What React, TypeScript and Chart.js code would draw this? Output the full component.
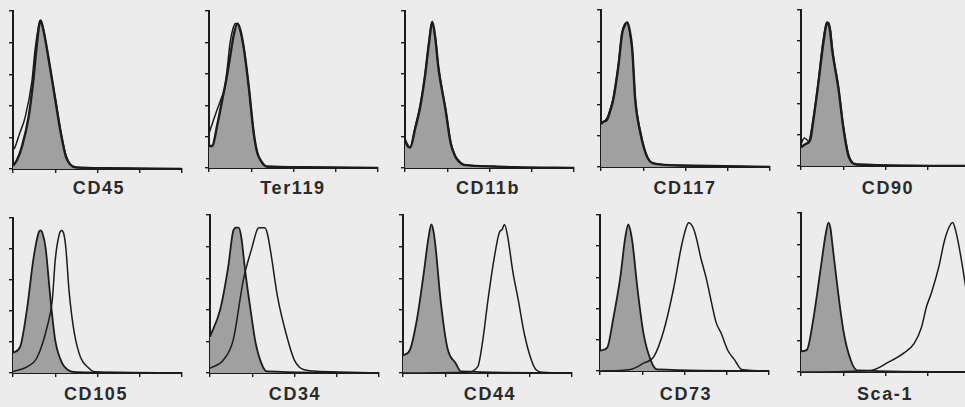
import React, { useEffect, useRef } from "react";
import { Chart, registerables } from "chart.js";

Chart.register(...registerables);

// ---------- DATA ----------
// x = log10 fluorescence (4 decades), y = % of max events
const markers = ["CD45", "Ter119", "CD11b", "CD117", "CD90", "CD105", "CD34", "CD44", "CD73", "Sca-1"];
const decadeTicks = [0, 1, 2, 3, 4];
const countTicks = [0, 20, 40, 60, 80, 100];

type Pt = [number, number];

const cd45Isotype: Pt[] = [[0, 2], [0.1, 6], [0.21, 14], [0.37, 33], [0.48, 56], [0.55, 75], [0.65, 94], [0.72, 88], [0.81, 75], [1.0, 44], [1.13, 23], [1.25, 8], [1.35, 3], [1.5, 1], [2.2, 0.5], [4, 0]];
const cd45Stained: Pt[] = [[0, 12], [0.05, 14], [0.15, 22], [0.29, 33], [0.45, 56], [0.52, 75], [0.62, 92], [0.66, 94], [0.73, 87], [0.81, 75], [1.0, 45], [1.13, 24], [1.25, 9], [1.35, 3], [1.5, 1], [2.2, 0.5], [4, 0]];

const ter119Isotype: Pt[] = [[0, 14], [0.07, 14], [0.2, 28], [0.31, 43], [0.42, 58], [0.5, 71], [0.58, 84], [0.67, 92], [0.74, 88], [0.82, 77], [0.94, 52], [1.06, 22], [1.14, 10], [1.22, 5], [1.36, 1], [2.2, 0.5], [4, 0]];
const ter119Stained: Pt[] = [[0, 22], [0.1, 30], [0.19, 37], [0.3, 45], [0.38, 52], [0.45, 68], [0.5, 80], [0.57, 89], [0.63, 92], [0.7, 91], [0.77, 84], [0.85, 72], [0.94, 52], [1.06, 22], [1.14, 10], [1.22, 5], [1.36, 1], [2.2, 0.5], [4, 0]];

const cd11bIsotype: Pt[] = [[0, 18], [0.05, 15], [0.12, 13], [0.24, 25], [0.36, 39], [0.48, 60], [0.56, 78], [0.65, 93], [0.72, 82], [0.79, 64], [0.96, 37], [1.08, 16], [1.18, 8], [1.25, 5], [1.4, 2], [2.1, 1], [2.6, 0.5], [4, 0]];
const cd11bStained: Pt[] = [[0, 17], [0.05, 14], [0.12, 13], [0.24, 26], [0.36, 40], [0.48, 61], [0.56, 79], [0.64, 93], [0.72, 83], [0.79, 65], [0.96, 38], [1.08, 17], [1.18, 8], [1.25, 5], [1.4, 2], [2.1, 1], [2.6, 0.5], [4, 0]];

const cd117Isotype: Pt[] = [[0, 28], [0.07, 29], [0.14, 30], [0.22, 36], [0.29, 43], [0.41, 64], [0.5, 85], [0.56, 90], [0.62, 92], [0.68, 87], [0.74, 75], [0.81, 43], [0.93, 22], [1.1, 6], [1.3, 2], [1.85, 1], [4, 0]];
const cd117Stained: Pt[] = [[0, 27], [0.07, 29], [0.14, 31], [0.22, 37], [0.29, 44], [0.41, 65], [0.5, 86], [0.56, 91], [0.62, 92], [0.68, 86], [0.74, 74], [0.81, 44], [0.93, 23], [1.1, 6], [1.3, 2], [1.85, 1], [4, 0]];

const cd90Isotype: Pt[] = [[0, 12], [0.1, 14], [0.22, 17], [0.29, 29], [0.41, 53], [0.53, 79], [0.62, 92], [0.68, 88], [0.74, 74], [0.89, 49], [1.0, 25], [1.13, 6], [1.33, 1], [4, 0]];
const cd90Stained: Pt[] = [[0, 14], [0.08, 18], [0.18, 16], [0.27, 27], [0.4, 52], [0.52, 80], [0.6, 91], [0.65, 92], [0.7, 87], [0.75, 74], [0.89, 50], [1.0, 26], [1.13, 7], [1.33, 1], [4, 0]];

const cd105Isotype: Pt[] = [[0, 13], [0.17, 17], [0.33, 41], [0.48, 73], [0.6, 90], [0.65, 92], [0.7, 90], [0.77, 81], [0.89, 47], [1.0, 21], [1.17, 6], [1.3, 2], [1.5, 0.5], [4, 0]];
const cd105Stained: Pt[] = [[0, 1], [0.33, 4], [0.57, 10], [0.81, 30], [0.93, 47], [1.0, 73], [1.1, 90], [1.15, 92], [1.2, 90], [1.25, 81], [1.33, 52], [1.45, 26], [1.6, 10], [1.8, 3], [1.9, 1], [2.3, 0.5], [4, 0]];

const cd34Isotype: Pt[] = [[0, 23], [0.24, 40], [0.43, 67], [0.55, 90], [0.62, 92], [0.68, 92], [0.74, 86], [0.84, 63], [0.96, 40], [1.08, 19], [1.25, 4], [1.35, 1], [4, 0]];
const cd34Stained: Pt[] = [[0, 3], [0.31, 8], [0.55, 21], [0.79, 59], [1.0, 80], [1.12, 91], [1.17, 92], [1.3, 92], [1.36, 88], [1.44, 76], [1.6, 48], [1.8, 25], [2.0, 8], [2.23, 2], [2.6, 1], [4, 0]];

const cd44Isotype: Pt[] = [[0, 11], [0.17, 15], [0.33, 34], [0.48, 61], [0.6, 85], [0.67, 94], [0.72, 90], [0.77, 80], [0.89, 46], [1.05, 16], [1.25, 6], [1.37, 1], [4, 0]];
const cd44Stained: Pt[] = [[0, 0], [1.5, 0.5], [1.77, 4], [1.89, 21], [2.01, 46], [2.16, 73], [2.28, 89], [2.35, 91], [2.4, 94], [2.48, 86], [2.6, 64], [2.73, 46], [2.87, 25], [3.04, 8], [3.15, 2], [3.3, 0.5], [4, 0]];

const cd73Isotype: Pt[] = [[0, 13], [0.17, 15], [0.31, 33], [0.48, 60], [0.6, 86], [0.67, 94], [0.72, 90], [0.77, 82], [0.89, 52], [1.03, 24], [1.2, 7], [1.35, 1], [4, 0]];
const cd73Stained: Pt[] = [[0, 0], [0.72, 1], [1.03, 5], [1.27, 9], [1.51, 26], [1.75, 54], [1.92, 79], [2.04, 92], [2.1, 95], [2.23, 90], [2.4, 71], [2.51, 60], [2.63, 45], [2.75, 31], [2.87, 24], [3.03, 13], [3.19, 7], [3.35, 1], [4, 0]];

const sca1Isotype: Pt[] = [[0, 13], [0.14, 14], [0.29, 33], [0.46, 64], [0.58, 86], [0.65, 94], [0.7, 90], [0.74, 81], [0.86, 54], [1.01, 25], [1.17, 8], [1.33, 1], [4, 0]];
const sca1Stained: Pt[] = [[0, 0], [1.65, 1], [2.06, 6], [2.44, 12], [2.68, 18], [2.85, 28], [2.97, 41], [3.09, 50], [3.26, 66], [3.4, 83], [3.52, 92], [3.59, 94], [3.65, 90], [3.74, 79], [3.86, 60], [3.95, 45], [4.0, 38]];

const isotypeSeries: Pt[][] = [cd45Isotype, ter119Isotype, cd11bIsotype, cd117Isotype, cd90Isotype, cd105Isotype, cd34Isotype, cd44Isotype, cd73Isotype, sca1Isotype];
const stainedSeries: Pt[][] = [cd45Stained, ter119Stained, cd11bStained, cd117Stained, cd90Stained, cd105Stained, cd34Stained, cd44Stained, cd73Stained, sca1Stained];

// ---------- LAYOUT (pixels) ----------
const PLOT_W = 167;
const TICK = 4;
const PAD = 2;
const boxes = [
  { left: 13, top: 11, base: 169, labelX: 99, labelY: 178.5, lw: 2.4, slw: 1.5 },
  { left: 209, top: 11, base: 168, labelX: 293, labelY: 178.5, lw: 2.4, slw: 1.5 },
  { left: 405, top: 11, base: 168, labelX: 488, labelY: 178.5, lw: 2.4, slw: 1.5 },
  { left: 601, top: 10, base: 167, labelX: 685, labelY: 178.5, lw: 2.4, slw: 1.5 },
  { left: 801, top: 10, base: 166, labelX: 888, labelY: 178.5, lw: 2.4, slw: 1.5 },
  { left: 13, top: 218, base: 373, labelX: 96, labelY: 384.5, lw: 1.8, slw: 1.5 },
  { left: 210, top: 215, base: 373, labelX: 295, labelY: 384.5, lw: 1.8, slw: 1.5 },
  { left: 403, top: 215, base: 373, labelX: 490, labelY: 384.5, lw: 1.8, slw: 1.5 },
  { left: 600, top: 215, base: 371, labelX: 686, labelY: 384.5, lw: 1.8, slw: 1.5 },
  { left: 801, top: 213, base: 372, labelX: 885, labelY: 384.5, lw: 1.8, slw: 1.5 },
];

const INK = "#1c1c1c";
const FILL = "#a0a0a0";
const BG = "#ececec";

function Histogram({ idx }: { idx: number }) {
  const ref = useRef<HTMLCanvasElement | null>(null);
  const b = boxes[idx];
  const w = TICK + PLOT_W + PAD * 2;
  const h = PAD + (b.base - b.top) + TICK;

  useEffect(() => {
    if (!ref.current) return;
    const toXY = (pts: Pt[]) => pts.map(([x, y]) => ({ x, y }));
    const axisCommon = (ticks: number[]) => ({
      type: "linear" as const,
      min: ticks[0],
      max: ticks[ticks.length - 1],
      afterBuildTicks: (scale: any) => {
        scale.ticks = ticks.map((v) => ({ value: v }));
      },
      ticks: { display: false },
      grid: {
        display: true,
        drawOnChartArea: false,
        drawTicks: true,
        tickLength: TICK,
        color: INK,
        lineWidth: 1.4,
      },
      border: { display: true, color: INK, width: 2 },
    });
    const chart = new Chart(ref.current, {
      type: "line",
      data: {
        datasets: [
          {
            label: markers[idx],
            data: toXY(stainedSeries[idx]),
            borderColor: INK,
            borderWidth: b.slw,
            fill: false,
            pointRadius: 0,
            cubicInterpolationMode: "monotone",
          },
          {
            label: markers[idx] + " isotype",
            data: toXY(isotypeSeries[idx]),
            borderColor: INK,
            backgroundColor: FILL,
            borderWidth: b.lw,
            fill: "origin",
            pointRadius: 0,
            cubicInterpolationMode: "monotone",
          },
        ],
      },
      options: {
        animation: false,
        responsive: false,
        devicePixelRatio: 1,
        layout: { padding: { top: PAD, right: PAD, left: 0, bottom: 0 } },
        plugins: { legend: { display: false }, tooltip: { enabled: false } },
        scales: {
          x: axisCommon(decadeTicks) as any,
          y: axisCommon(countTicks) as any,
        },
      },
    });
    return () => chart.destroy();
  }, [idx]);

  return (
    <>
      <canvas
        ref={ref}
        width={w}
        height={h}
        style={{ position: "absolute", left: b.left - TICK, top: b.top - PAD, width: w, height: h }}
      />
      <div
        style={{
          position: "absolute",
          left: b.labelX,
          top: b.labelY,
          transform: "translateX(-50%)",
          font: "bold 18px 'Liberation Sans', Arial, sans-serif",
          lineHeight: "18px",
          letterSpacing: "1.6px",
          color: "#2a2a2a",
          whiteSpace: "nowrap",
        }}
      >
        {markers[idx]}
      </div>
    </>
  );
}

export default function App() {
  return (
    <div style={{ position: "fixed", left: 0, top: 0, width: 965, height: 407, overflow: "hidden", background: BG }}>
      {markers.map((_, i) => (
        <Histogram key={i} idx={i} />
      ))}
    </div>
  );
}
